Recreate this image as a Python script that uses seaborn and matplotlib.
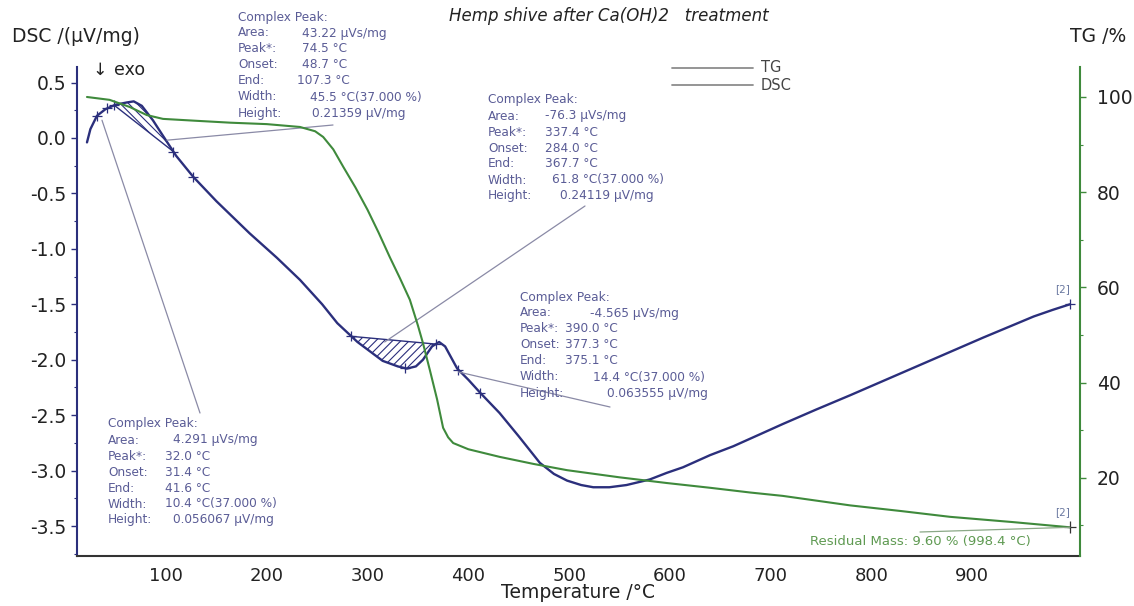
import numpy as np
import matplotlib
matplotlib.use("Agg")
import matplotlib.pyplot as plt
import seaborn as sns
from matplotlib.lines import Line2D
from matplotlib.ticker import MultipleLocator

# ---------------- data ----------------
dsc_temp = [21.6, 25, 31.5, 40, 50, 61, 68, 76, 87, 97, 110, 127, 150, 183, 210, 233,
            255, 270, 290, 315, 330, 339, 348, 355, 364, 371, 377, 389, 400, 412, 431,
            450, 471, 485, 498, 512, 524, 540, 557, 580, 597, 613, 640, 663, 690, 712,
            745, 779, 812, 845, 878, 911, 940, 961, 980, 997]
dsc_val = [-0.04, 0.08, 0.20, 0.26, 0.30, 0.32, 0.33, 0.29, 0.16, 0.02, -0.16, -0.35,
           -0.57, -0.86, -1.08, -1.28, -1.50, -1.67, -1.84, -2.01, -2.06, -2.08, -2.06,
           -2.00, -1.88, -1.84, -1.88, -2.08, -2.18, -2.30, -2.48, -2.69, -2.93, -3.03,
           -3.09, -3.13, -3.15, -3.15, -3.13, -3.08, -3.02, -2.97, -2.86, -2.78, -2.67,
           -2.58, -2.45, -2.32, -2.19, -2.06, -1.93, -1.80, -1.69, -1.61, -1.55, -1.50]

tg_temp = [21.6, 44, 64, 81, 97, 130, 164, 200, 233, 248, 256, 266, 276, 288, 300, 311,
           322, 332, 342, 350, 355, 362, 369, 375, 380, 385, 400, 431, 465, 498, 550,
           597, 640, 680, 712, 779, 830, 878, 940, 997]
tg_val = [100.0, 99.4, 97.9, 96.2, 95.4, 95.0, 94.6, 94.3, 93.7, 92.8, 91.6, 89.0, 85.3,
          81.0, 76.3, 71.5, 66.4, 62.0, 57.4, 52.0, 48.3, 42.5, 36.5, 30.5, 28.5, 27.3,
          26.0, 24.4, 22.9, 21.6, 20.1, 18.9, 17.9, 16.9, 16.2, 14.2, 13.0, 11.8, 10.7, 9.6]

# peak evaluation results (onset / end used for the hatched integration areas)
peak_onsets = [48.7, 284.0]
peak_ends = [107.3, 367.7]
mark_temps = [31.4, 41.6, 48.7, 107.3, 127.0, 284.0, 337.4, 367.7, 390.0, 412.0]

x_ticks = [100, 200, 300, 400, 500, 600, 700, 800, 900]
dsc_ticks = [0.5, 0.0, -0.5, -1.0, -1.5, -2.0, -2.5, -3.0, -3.5]
tg_ticks = [20, 40, 60, 80, 100]

blocks = [
    # label x, first line y, value x positions, values
    (238, 17, [302, 302, 302, 297, 310, 312],
     ["43.22 µVs/mg", "74.5 °C", "48.7 °C", "107.3 °C", "45.5 °C(37.000 %)", "0.21359 µV/mg"]),
    (488, 100, [545, 545, 545, 545, 552, 560],
     ["-76.3 µVs/mg", "337.4 °C", "284.0 °C", "367.7 °C", "61.8 °C(37.000 %)", "0.24119 µV/mg"]),
    (520, 297, [590, 565, 565, 565, 593, 607],
     ["-4.565 µVs/mg", "390.0 °C", "377.3 °C", "375.1 °C", "14.4 °C(37.000 %)", "0.063555 µV/mg"]),
    (108, 424, [173, 165, 165, 165, 165, 173],
     ["4.291 µVs/mg", "32.0 °C", "31.4 °C", "41.6 °C", "10.4 °C(37.000 %)", "0.056067 µV/mg"]),
]
row_labels = ["Area:", "Peak*:", "Onset:", "End:", "Width:", "Height:"]

# ---------------- styling ----------------
sns.set_style("white")
plt.rcParams["font.family"] = ["DejaVu Sans"]
plt.rcParams["hatch.linewidth"] = 0.8

DSC_C = "#2b2f7c"
TG_C = "#3f8a3c"
ANN_C = "#5a5c96"
LEAD_C = "#8a8aa6"

W, H = 1134, 606
fig = plt.figure(figsize=(W / 100, H / 100), dpi=100)
ax = fig.add_axes([77 / W, 1 - 556 / H, (1080 - 77) / W, (556 - 67) / H])
ax2 = ax.twinx()

sns.lineplot(x=dsc_temp, y=dsc_val, ax=ax, color=DSC_C, lw=1.7, sort=False, estimator=None)
sns.lineplot(x=tg_temp, y=tg_val, ax=ax2, color=TG_C, lw=1.5, sort=False, estimator=None)

ax.set_xlim(11.7, 1007)
ax.set_ylim(-3.77, 0.64)
ax2.set_ylim(3.57, 106.3)

# hatched integration areas
dt = np.array(dsc_temp)
dv = np.array(dsc_val)
hatches = ["\\\\\\\\", "////"]
for on, en, hp in zip(peak_onsets, peak_ends, hatches):
    xs = np.linspace(on, en, 60)
    ys = np.interp(xs, dt, dv)
    y0, y1 = np.interp(on, dt, dv), np.interp(en, dt, dv)
    base = y0 + (y1 - y0) * (xs - on) / (en - on)
    ax.fill_between(xs, ys, base, facecolor="none", edgecolor=DSC_C, hatch=hp, linewidth=0)
    ax.plot([on, en], [y0, y1], color=DSC_C, lw=1.0)

# small evaluation markers
mt = np.array(mark_temps)
ax.plot(mt, np.interp(mt, dt, dv), ls="none", marker="+", ms=7, mew=0.9, color=DSC_C)
ax.plot([dsc_temp[-1]], [dsc_val[-1]], ls="none", marker="+", ms=7, mew=0.9, color=DSC_C)
ax2.plot([tg_temp[-1]], [tg_val[-1]], ls="none", marker="+", ms=8, mew=0.9, color="#333333")

# axes formatting
ax.set_xlabel("")
ax.set_ylabel("")
ax2.set_ylabel("")
ax.set_xticks(x_ticks)
ax.xaxis.set_minor_locator(MultipleLocator(25))
ax.set_yticks(dsc_ticks)
ax.set_yticklabels([f"{v:.1f}" for v in dsc_ticks])
ax.yaxis.set_minor_locator(MultipleLocator(0.25))
ax2.set_yticks(tg_ticks)
ax2.yaxis.set_minor_locator(MultipleLocator(10))

for s in ["top", "right"]:
    ax.spines[s].set_visible(False)
for s in ["top", "left", "bottom"]:
    ax2.spines[s].set_visible(False)
ax.spines["left"].set_color(DSC_C)
ax.spines["left"].set_linewidth(1.5)
ax.spines["bottom"].set_color("#333333")
ax.spines["bottom"].set_linewidth(1.5)
ax2.spines["right"].set_color(TG_C)
ax2.spines["right"].set_linewidth(1.5)

ax.tick_params(axis="x", which="major", direction="out", length=4, width=1.0, pad=4,
               colors="#333333", labelsize=13, labelcolor="#222222")
ax.tick_params(axis="x", which="minor", direction="out", length=2.5, width=0.8, colors="#333333")
ax.tick_params(axis="y", which="major", direction="out", length=4, width=1.0, pad=4,
               colors=DSC_C, labelsize=13.5, labelcolor="#222222")
ax.tick_params(axis="y", which="minor", direction="out", length=2.5, width=0.8, colors=DSC_C)
ax2.tick_params(axis="y", which="major", direction="out", length=4, width=1.0, pad=8,
                colors=TG_C, labelsize=13.5, labelcolor="#222222")
ax2.tick_params(axis="y", which="minor", direction="out", length=2.5, width=0.8, colors=TG_C)


def fx(px):
    return px / W


def fy(py):
    return 1 - py / H


# axis titles and header texts
fig.text(fx(12), fy(37), "DSC /(µV/mg)", fontsize=13.5, va="center", ha="left", color="#222222")
fig.text(fx(1126), fy(37), "TG /%", fontsize=13.5, va="center", ha="right", color="#222222")
fig.text(fx(578), fy(593), "Temperature /°C", fontsize=13.5, va="center", ha="center", color="#222222")
fig.text(fx(92), fy(70), "↓", fontsize=12.5, va="center", ha="left", color="#222222")
fig.text(fx(114), fy(70), "exo", fontsize=12.5, va="center", ha="left", color="#222222")
fig.text(fx(609), fy(16), "Hemp shive after Ca(OH)2   treatment", fontsize=12, style="italic",
         va="center", ha="center", color="#222222")

# legend (grey sample lines)
for yy, lab in [(68, "TG"), (85, "DSC")]:
    fig.add_artist(Line2D([fx(672), fx(753)], [fy(yy), fy(yy)], transform=fig.transFigure,
                          color="#8c8c8c", lw=1.3))
    fig.text(fx(761), fy(yy), lab, fontsize=10.5, va="center", ha="left", color="#444444")

# peak evaluation blocks
for lx, y0, vxs, vals in blocks:
    fig.text(fx(lx), fy(y0), "Complex Peak:", fontsize=8.7, va="center", ha="left", color=ANN_C)
    for i, (lab, vx, val) in enumerate(zip(row_labels, vxs, vals)):
        yy = y0 + 16 * (i + 1)
        fig.text(fx(lx), fy(yy), lab, fontsize=8.7, va="center", ha="left", color=ANN_C)
        fig.text(fx(vx), fy(yy), val, fontsize=8.7, va="center", ha="left", color=ANN_C)

# leader lines from curve to the blocks
leaders = [((101, -0.02), (333, 125)), ((317, -1.84), (585, 206)),
           ((390, -2.11), (610, 407)), ((36.5, 0.16), (200, 413))]
for (tx, ty), (px, py) in leaders:
    ax.annotate("", xy=(tx, ty), xycoords="data", xytext=(px, H - py), textcoords="figure pixels",
                arrowprops=dict(arrowstyle="-", color=LEAD_C, lw=0.9, shrinkA=0, shrinkB=0))

# residual mass
fig.text(fx(810), fy(542), "Residual Mass: 9.60 % (998.4 °C)", fontsize=9.5, va="center",
         ha="left", color="#5f9a52")
ax2.annotate("", xy=(tg_temp[-1], tg_val[-1]), xycoords="data", xytext=(920, H - 532),
             textcoords="figure pixels",
             arrowprops=dict(arrowstyle="-", color="#8aa886", lw=0.9, shrinkA=0, shrinkB=0))
fig.text(fx(1063), fy(289), "[2]", fontsize=7.5, va="center", ha="center", color="#6a78a0")
fig.text(fx(1063), fy(512), "[2]", fontsize=7.5, va="center", ha="center", color="#6a78a0")

fig.savefig("out.png", dpi=100)
